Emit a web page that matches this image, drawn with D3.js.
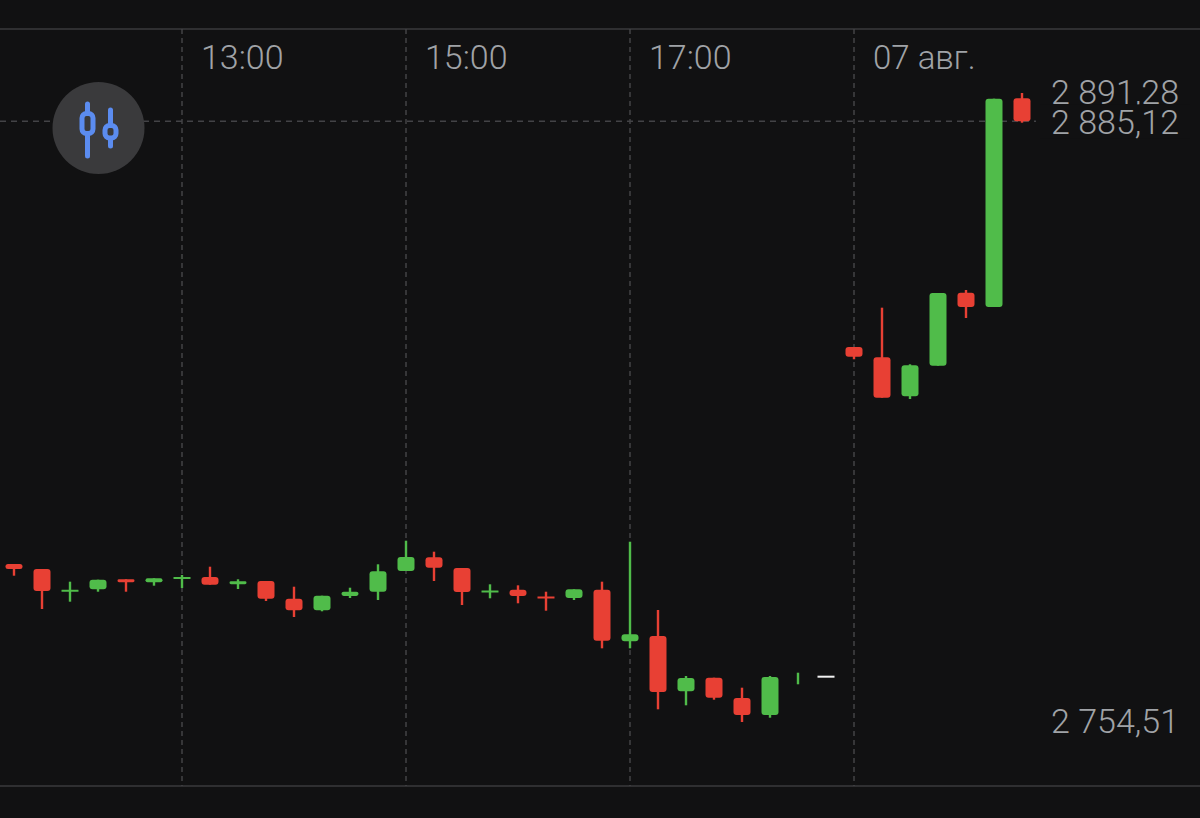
<!DOCTYPE html>
<html>
<head>
<meta charset="utf-8">
<script src="https://cdn.jsdelivr.net/npm/d3@7"></script>
<style>
	html, body { margin: 0; padding: 0; background: #111112; overflow: hidden; }
	svg { display: block; }
	text { font-family: Roboto, sans-serif; font-weight: 300; fill: #a0a3a7; }
</style>
</head>
<body>
<svg id="chart" width="1200" height="818"></svg>
<script>
"use strict";

// 15 minute candles
var times = ["11:30", "11:45", "12:00", "12:15", "12:30", "12:45", "13:00", "13:15", "13:30", "13:45",
	"14:00", "14:15", "14:30", "14:45", "15:00", "15:15", "15:30", "15:45", "16:00", "16:15",
	"16:30", "16:45", "17:00", "17:15", "17:30", "17:45", "18:00", "18:15", "18:30", "18:45",
	"07 авг.", "07:15", "07:30", "07:45", "08:00", "08:15", "08:30"];

var opens = [2788.87, 2787.78, 2783.15, 2783.36, 2785.54, 2784.89, 2785.98, 2786.04, 2784.45, 2785.17,
	2781.32, 2778.80, 2781.91, 2782.84, 2787.34, 2790.32, 2788.00, 2783.00, 2783.28, 2781.80,
	2781.47, 2783.28, 2772.06, 2773.21, 2761.18, 2764.14, 2759.73, 2756.03, null, 2764.58,
	2836.05, 2833.81, 2825.33, 2831.98, 2847.86, 2844.75, 2890.13];

var highs = [2788.87, 2787.78, 2785.02, 2785.45, 2785.54, 2785.76, 2786.47, 2788.28, 2785.54, 2785.17,
	2783.93, 2781.97, 2783.71, 2788.80, 2793.93, 2791.54, 2788.00, 2784.45, 2784.23, 2782.84,
	2783.36, 2785.02, 2793.71, 2778.86, 2764.51, 2764.14, 2761.97, 2764.51, 2765.23, 2764.58,
	2836.05, 2844.60, 2832.29, 2847.79, 2848.44, 2890.04, 2891.28];

var lows = [2786.32, 2779.08, 2780.67, 2782.84, 2782.84, 2784.15, 2783.65, 2784.36, 2783.43, 2780.82,
	2777.34, 2778.58, 2781.47, 2781.04, 2787.34, 2785.17, 2779.95, 2781.41, 2780.32, 2778.71,
	2781.04, 2770.53, 2770.53, 2757.27, 2758.14, 2759.36, 2754.51, 2755.44, 2762.71, 2764.58,
	2833.38, 2825.03, 2824.74, 2831.98, 2842.36, 2844.75, 2884.82];

var closes = [2787.78, 2782.99, 2783.27, 2785.45, 2784.89, 2785.76, 2786.06, 2784.36, 2785.10, 2781.32,
	2778.80, 2781.97, 2782.84, 2787.28, 2790.39, 2788.06, 2782.78, 2783.12, 2781.91, 2781.70,
	2783.36, 2772.19, 2773.58, 2761.03, 2764.08, 2759.79, 2756.03, 2764.30, null, 2764.58,
	2833.94, 2825.03, 2832.07, 2847.79, 2844.75, 2890.04, 2885.12];

var xTicks = ["13:00", "15:00", "17:00", "07 авг."];
var priceMax = 2891.28, priceLast = 2885.12, priceMin = 2754.51;

var RED = "#e84034", GREEN = "#50bc4a", WHITE = "#f2f2f2", GRID = "#434346";

var svg = d3.select("#chart");

var x = d3.scalePoint().domain(times).range([14, 1022]);
var y = d3.scaleLinear().domain([priceMin, priceMax]).range([722, 93]);

// frame lines
svg.append("line").attr("x1", 0).attr("x2", 1200).attr("y1", 29).attr("y2", 29).attr("stroke", "#3a3a3c").attr("stroke-width", 1.5);
svg.append("line").attr("x1", 0).attr("x2", 1200).attr("y1", 786).attr("y2", 786).attr("stroke", "#3a3a3c").attr("stroke-width", 1.5);

// time axis, its ticks are the dashed verticals
var axis = d3.axisBottom(x).tickValues(xTicks).tickSize(757).tickPadding(0).offset(0);
var axisG = svg.append("g").attr("class", "x-axis").attr("transform", "translate(0,29)").call(axis);
axisG.select(".domain").remove();
axisG.selectAll(".tick line")
	.attr("stroke", GRID)
	.attr("stroke-width", 1.5)
	.attr("stroke-dasharray", "5 4");
axisG.selectAll(".tick text")
	.attr("x", 19)
	.attr("y", 40)
	.attr("dy", 0)
	.attr("text-anchor", "start")
	.style("font-size", "34px")
	.style("font-family", "Roboto, sans-serif");
axisG.selectAll(".tick text")
	.filter(function (d) { return d === "07 авг."; })
	.style("font-size", "33px");
axisG.attr("font-size", null).attr("font-family", null);

// last price line
svg.append("line")
	.attr("x1", 0).attr("x2", 1036)
	.attr("y1", y(priceLast)).attr("y2", y(priceLast))
	.attr("stroke", GRID)
	.attr("stroke-width", 1.5)
	.attr("stroke-dasharray", "6 5");

// candles
function candleColor(i) {
	if (opens[i] === null) return GREEN;
	if (closes[i] > opens[i]) return GREEN;
	if (closes[i] < opens[i]) return RED;
	return WHITE;
}

var candles = svg.append("g").selectAll("g").data(times).join("g");

candles.filter(function (d, i) { return highs[i] > lows[i]; })
	.append("line")
	.attr("x1", function (d) { return x(d); })
	.attr("x2", function (d) { return x(d); })
	.attr("y1", function (d) { return y(highs[times.indexOf(d)]); })
	.attr("y2", function (d) { return y(lows[times.indexOf(d)]); })
	.attr("stroke", function (d) { return candleColor(times.indexOf(d)); })
	.attr("stroke-width", 2.4);

candles.filter(function (d, i) { return opens[i] !== null; })
	.append("rect")
	.attr("x", function (d) { return x(d) - 8.5; })
	.attr("width", 17)
	.attr("y", function (d) {
		var i = times.indexOf(d);
		return y(Math.max(opens[i], closes[i]));
	})
	.attr("height", function (d) {
		var i = times.indexOf(d);
		return Math.max(2, Math.abs(y(opens[i]) - y(closes[i])));
	})
	.attr("rx", function (d) {
		var i = times.indexOf(d);
		return Math.min(3, Math.abs(y(opens[i]) - y(closes[i])) / 2);
	})
	.attr("fill", function (d) { return candleColor(times.indexOf(d)); });

// price labels, the last price sits on top of the max label and cuts its comma
function priceLabel(value) {
	var s = d3.format(".2f")(value).replace(".", ",");
	return s.charAt(0) + " " + s.substring(1);
}

svg.append("text")
	.attr("x", 1179).attr("y", y(priceMax) - 1).attr("dy", "0.36em")
	.attr("text-anchor", "end").style("font-size", "34px")
	.text(priceLabel(priceMax));

svg.append("rect")
	.attr("x", 1040).attr("width", 150)
	.attr("y", y(priceLast) - 17).attr("height", 34)
	.attr("fill", "#111112");

svg.append("text")
	.attr("x", 1179).attr("y", y(priceLast)).attr("dy", "0.36em")
	.attr("text-anchor", "end").style("font-size", "34px")
	.text(priceLabel(priceLast));

svg.append("text")
	.attr("x", 1179).attr("y", y(priceMin) - 1).attr("dy", "0.36em")
	.attr("text-anchor", "end").style("font-size", "34px")
	.text(priceLabel(priceMin));

// chart type button
var button = svg.append("g").attr("transform", "translate(98.5,128)");
button.append("circle").attr("r", 46).attr("fill", "#3a3a3c");

var BLUE = "#5b8cf0";
button.append("line").attr("x1", -11).attr("x2", -11).attr("y1", -24).attr("y2", 28)
	.attr("stroke", BLUE).attr("stroke-width", 5).attr("stroke-linecap", "round");
button.append("rect").attr("x", -16.5).attr("y", -14.5).attr("width", 11).attr("height", 20).attr("rx", 4.5)
	.attr("fill", "#3a3a3c").attr("stroke", BLUE).attr("stroke-width", 5);
button.append("line").attr("x1", 12).attr("x2", 12).attr("y1", -18).attr("y2", 18)
	.attr("stroke", BLUE).attr("stroke-width", 5).attr("stroke-linecap", "round");
button.append("rect").attr("x", 6.5).attr("y", -2.5).attr("width", 11).attr("height", 12.5).attr("rx", 4.5)
	.attr("fill", "#3a3a3c").attr("stroke", BLUE).attr("stroke-width", 5);
</script>
</body>
</html>
